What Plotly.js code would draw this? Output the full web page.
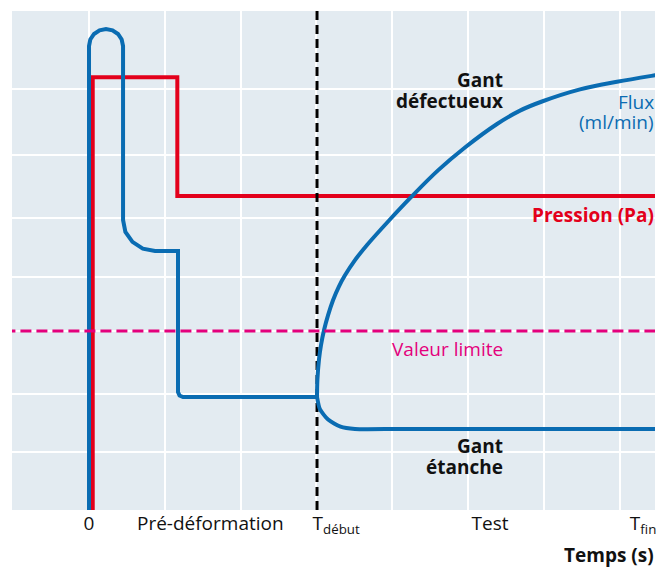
<!DOCTYPE html>
<html>
<head>
<meta charset="utf-8">
<script src="https://cdn.plot.ly/plotly-3.0.1.min.js"></script>
<style>html,body{margin:0;padding:0;background:#fff;}#chart{width:670px;height:567px;}</style>
</head>
<body>
<div id="chart"></div>
<script>
// Time axis (arbitrary units, 10 per grid cell) and signal levels (arbitrary units)
const gridX = [0, 10, 20, 30, 40, 50, 60, 70];
const gridY = [5.8, 11.6, 17.9, 23.3, 29.2, 35.5, 42.1];

const tickPos = [0, 16.0, 32.6, 52.9, 73.1];
const tickText = ['0', 'Pré-déformation', 'T<sub>début</sub>', 'Test', 'T<sub>fin</sub>'];

// Pression (Pa)
const pressionT = [0.49, 0.49, 11.65, 11.65, 76];
const pressionV = [0, 43.27, 43.27, 31.4, 31.4];

// Flux (ml/min) – pré-déformation jusqu'à T début
const fluxPreT = [0, 0, 0.17, 0.66, 1.39, 2.24, 3.10, 3.83, 4.31, 4.49, 4.49, 4.80, 5.73, 7.10, 8.71, 11.74, 11.74, 11.94, 12.40, 30.08];
const fluxPreV = [0, 46.4, 47.05, 47.6, 47.97, 48.1, 47.97, 47.6, 47.05, 46.4, 29.0, 27.81, 26.81, 26.14, 25.9, 25.9, 11.8, 11.45, 11.3, 11.3];

// Gant défectueux
const defT = [30.08, 30.13, 30.34, 30.61, 31.00, 31.53, 32.19, 32.98, 33.77, 35.09, 36.68, 39.58, 42.48, 46.04, 49.60, 53.83, 56.86, 59.76, 64.78, 69.66, 74.67, 76];
const defV = [11.3, 13.0, 15.05, 16.5, 17.97, 19.46, 20.98, 22.37, 23.47, 24.99, 26.5, 28.95, 31.28, 33.96, 36.25, 38.6, 39.94, 40.85, 42.06, 42.82, 43.47, 43.63];

// Gant étanche
const etT = [30.08, 30.46, 31.54, 33.18, 35.09, 41.03, 76];
const etV = [11.3, 10.08, 9.04, 8.34, 8.1, 8.1, 8.1];

// Valeur limite & T début
const limite = 17.9;
const tDebut = 30.08;

const xRange = [-10.16, 74.67];
const yRange = [0, 49.9];

const BLUE = '#0a6cb2';
const RED = '#e3001b';
const MAG = '#e4007c';
const FONT = 'Open Sans, Noto Sans, sans-serif';

const traces = [
  {x: [xRange[0] - 1, xRange[1] + 1], y: [limite, limite], xaxis: 'x2', yaxis: 'y', mode: 'lines',
   line: {color: MAG, width: 3, dash: '11px,5px'}, hoverinfo: 'skip'},
  {x: pressionT, y: pressionV, mode: 'lines', line: {color: RED, width: 4}, hoverinfo: 'skip'},
  {x: [tDebut, tDebut], y: yRange, mode: 'lines', line: {color: '#000', width: 3, dash: '9px,5px'}, hoverinfo: 'skip'},
  {x: fluxPreT, y: fluxPreV, mode: 'lines', line: {color: BLUE, width: 4}, hoverinfo: 'skip'},
  {x: etT, y: etV, mode: 'lines', line: {color: BLUE, width: 4, shape: 'spline', smoothing: 0.6}, hoverinfo: 'skip'},
  {x: defT, y: defV, mode: 'lines', line: {color: BLUE, width: 4, shape: 'spline', smoothing: 1}, hoverinfo: 'skip'}
];

function ann(text, x, y, opts) {
  return Object.assign({text: text, x: x, y: y, xref: 'x', yref: 'y', showarrow: false,
    xanchor: 'right', yanchor: 'middle', borderpad: 0,
    font: {family: FONT, size: 19, color: '#111'}}, opts || {});
}

const annotations = [
  ann('<b>Gant</b>', 54.75, 42.97),
  ann('<b>défectueux</b>', 54.75, 40.87),
  ann('Flux', 1, 40.85, {xref: 'paper', font: {family: FONT, size: 19, color: BLUE}}),
  ann('(ml/min)', 1, 38.8, {xref: 'paper', font: {family: FONT, size: 19, color: BLUE}}),
  ann('<b>Pression (Pa)</b>', 1, 29.53, {xref: 'paper', font: {family: FONT, size: 19, color: RED}}),
  ann('Valeur limite', 54.75, 16.1, {font: {family: FONT, size: 19, color: MAG}}),
  ann('<b>Gant</b>', 54.75, 6.37),
  ann('<b>étanche</b>', 54.75, 4.27),
  ann('<b>Temps (s)</b>', 1, -0.0902, {xref: 'paper', yref: 'paper'})
];

const layout = {
  width: 670, height: 567,
  margin: {l: 12, r: 15, t: 11, b: 57, pad: 0},
  paper_bgcolor: '#ffffff',
  plot_bgcolor: '#e3ebf1',
  showlegend: false,
  font: {family: FONT, size: 19, color: '#111'},
  xaxis: {range: xRange, tickvals: gridX, showticklabels: false, ticks: '', showline: false,
          zeroline: false, showgrid: true, gridcolor: '#ffffff', gridwidth: 2, fixedrange: true},
  xaxis2: {range: xRange, overlaying: 'x', anchor: 'y', side: 'bottom', tickvals: tickPos, ticktext: tickText,
           showgrid: false, zeroline: false, showline: false, ticks: '',
           tickfont: {family: FONT, size: 19, color: '#111'}, fixedrange: true},
  yaxis: {range: yRange, tickvals: gridY, showticklabels: false, ticks: '', showline: false,
          zeroline: false, showgrid: true, gridcolor: '#ffffff', gridwidth: 2, fixedrange: true},
  annotations: annotations
};

Plotly.newPlot('chart', traces, layout, {displayModeBar: false, staticPlot: true});
</script>
</body>
</html>
